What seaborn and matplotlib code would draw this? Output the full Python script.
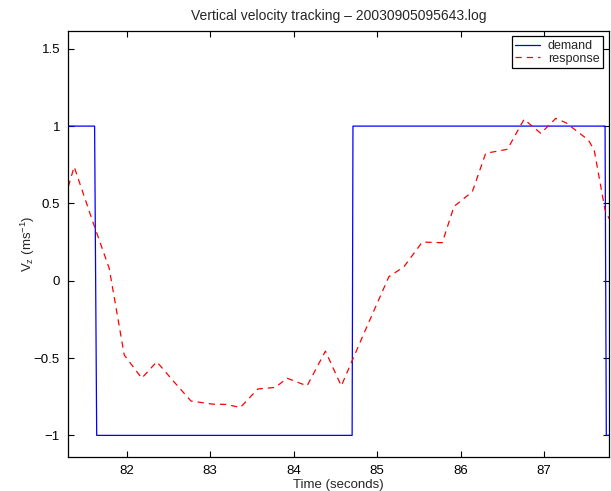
import numpy as np
import pandas as pd
import matplotlib
matplotlib.use("Agg")
import matplotlib.pyplot as plt
import seaborn as sns

# ---- data ----
demand_t = [81.30, 81.615, 81.64, 84.70, 84.71, 87.73, 87.745, 87.78]
demand_v = [1, 1, -1, -1, 1, 1, -1, -1]

response_t = [81.30, 81.37, 81.60, 81.79, 81.97, 82.18, 82.36, 82.56, 82.77, 83.03,
              83.20, 83.36, 83.57, 83.78, 83.92, 84.16, 84.38, 84.57, 84.85, 85.14,
              85.32, 85.54, 85.78, 85.92, 86.14, 86.30, 86.56, 86.76, 86.96, 87.14,
              87.26, 87.53, 87.60, 87.73, 87.78]
response_v = [0.608, 0.737, 0.371, 0.08, -0.48, -0.63, -0.524, -0.65, -0.778, -0.798,
              -0.80, -0.82, -0.70, -0.69, -0.63, -0.68, -0.455, -0.68, -0.33, 0.026,
              0.09, 0.25, 0.246, 0.48, 0.576, 0.824, 0.85, 1.044, 0.953, 1.05,
              1.022, 0.91, 0.845, 0.457, 0.40]

x_ticks = [82, 83, 84, 85, 86, 87]
y_ticks = [-1, -0.5, 0, 0.5, 1, 1.5]
y_tick_labels = ["\u22121", "\u22120.5", "0", "0.5", "1", "1.5"]

title = "Vertical velocity tracking \u2013 20030905095643.log"
xlabel = "Time (seconds)"
ylabel = r"V$_z$ (ms$^{-1}$)"

# ---- styling ----
sns.set_style("ticks")
plt.rcParams["font.family"] = ["Liberation Sans", "DejaVu Sans"]
plt.rcParams["mathtext.default"] = "regular"
plt.rcParams["axes.linewidth"] = 0.9
plt.rcParams["axes.edgecolor"] = "black"

fig = plt.figure(figsize=(6.11, 4.91), dpi=100)
ax = fig.add_axes([0.1118, 0.0692, 0.8849, 0.8683])

df_d = pd.DataFrame({"t": demand_t, "v": demand_v})
df_r = pd.DataFrame({"t": response_t, "v": response_v})

sns.lineplot(data=df_d, x="t", y="v", ax=ax, sort=False, estimator=None,
             color=(0, 0, 1), linewidth=0.9, label="demand")
sns.lineplot(data=df_r, x="t", y="v", ax=ax, sort=False, estimator=None,
             color=(1, 0, 0), linewidth=0.9, label="response")
ax.lines[1].set_dashes([5, 4])

ax.set_xlim(81.30, 87.777)
ax.set_ylim(-1.14, 1.617)
ax.set_xticks(x_ticks)
ax.set_xticklabels([str(v) for v in x_ticks])
ax.set_yticks(y_ticks)
ax.set_yticklabels(y_tick_labels)

ax.tick_params(direction="in", length=4, width=0.8, top=True, right=True,
               labelsize=9.5, colors="black", pad=6)
for s in ax.spines.values():
    s.set_visible(True)
    s.set_color("black")

ax.set_title(title, fontsize=10, pad=8)
ax.set_xlabel(xlabel, fontsize=9.5, labelpad=1)
ax.set_ylabel(ylabel, fontsize=9.5, labelpad=-2)

leg = ax.legend(loc="upper right", fontsize=9, frameon=True, fancybox=False,
                edgecolor="black", framealpha=1, borderpad=0.3, labelspacing=0.05,
                handlelength=2.0, handletextpad=0.6, borderaxespad=0.45)
leg.get_frame().set_linewidth(0.9)

fig.savefig("out.png", dpi=100)
